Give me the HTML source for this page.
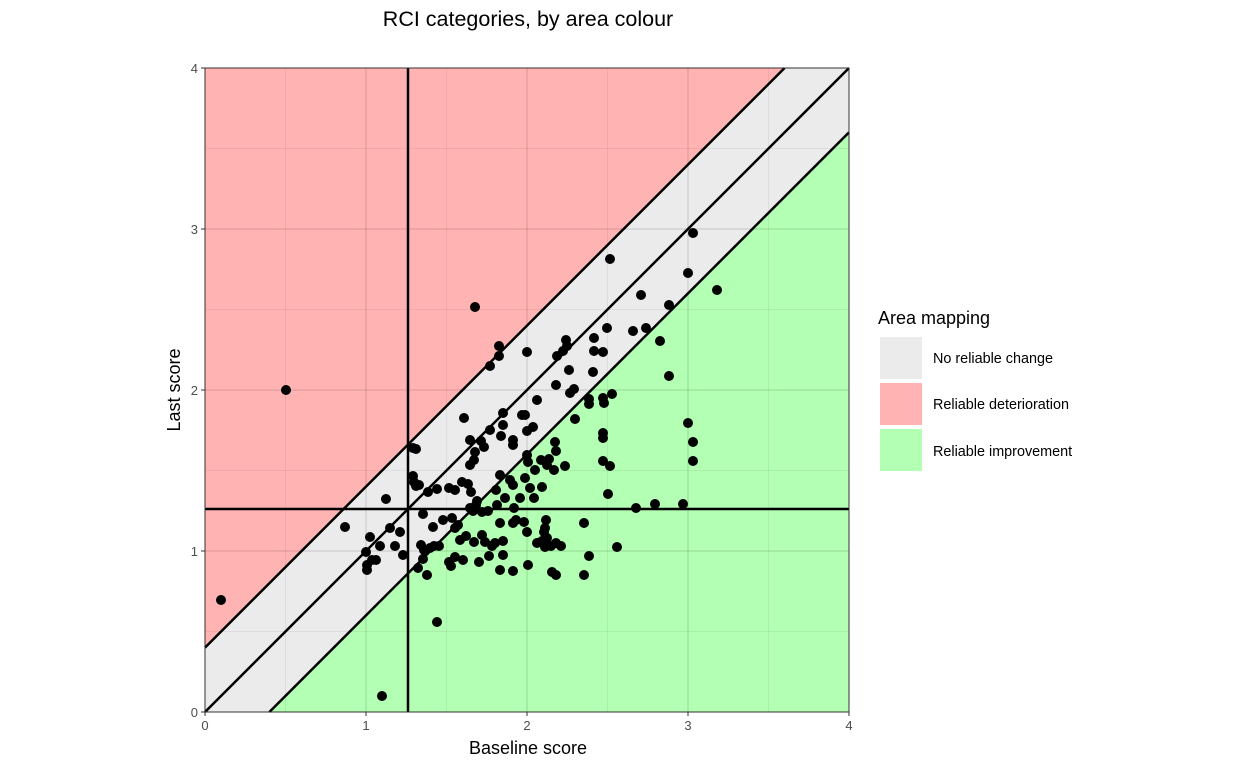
<!DOCTYPE html>
<html><head><meta charset="utf-8"><style>body{margin:0;background:#fff}svg{display:block}text{font-family:"Liberation Sans",sans-serif}</style></head><body>
<svg width="1248" height="768" xmlns="http://www.w3.org/2000/svg">
<rect width="1248" height="768" fill="#fff"/>
<polygon points="205,68 784.6,68 205,647.6" fill="#FFB3B3"/>
<polygon points="205,647.6 784.6,68 849,68 849,132.4 269.4,712 205,712" fill="#EBEBEB"/>
<polygon points="269.4,712 849,132.4 849,712" fill="#B3FFB3"/>
<g stroke="#000" stroke-opacity="0.06" stroke-width="1">
<line x1="285.5" y1="68" x2="285.5" y2="712"/><line x1="446.5" y1="68" x2="446.5" y2="712"/><line x1="607.5" y1="68" x2="607.5" y2="712"/><line x1="768.5" y1="68" x2="768.5" y2="712"/>
<line x1="205" y1="631.5" x2="849" y2="631.5"/><line x1="205" y1="470.5" x2="849" y2="470.5"/><line x1="205" y1="309.5" x2="849" y2="309.5"/><line x1="205" y1="148.5" x2="849" y2="148.5"/>
</g>
<g stroke="#000" stroke-opacity="0.1" stroke-width="1.5">
<line x1="366" y1="68" x2="366" y2="712"/><line x1="527" y1="68" x2="527" y2="712"/><line x1="688" y1="68" x2="688" y2="712"/>
<line x1="205" y1="551" x2="849" y2="551"/><line x1="205" y1="390" x2="849" y2="390"/><line x1="205" y1="229" x2="849" y2="229"/>
</g>
<g stroke="#000" stroke-width="2.5">
<line x1="205" y1="647.6" x2="784.6" y2="68"/><line x1="205" y1="712" x2="849" y2="68"/><line x1="269.4" y1="712" x2="849" y2="132.4"/>
<line x1="408" y1="68" x2="408" y2="712"/><line x1="205" y1="509" x2="849" y2="509"/>
</g>
<g fill="#000">
<circle cx="221" cy="600" r="5"/><circle cx="286" cy="390" r="5"/><circle cx="475" cy="307" r="5"/><circle cx="610" cy="259" r="5"/><circle cx="693" cy="233" r="5"/><circle cx="641" cy="295" r="5"/><circle cx="688" cy="273" r="5"/><circle cx="717" cy="290" r="5"/><circle cx="669" cy="305" r="5"/><circle cx="646" cy="328" r="5"/><circle cx="633" cy="331" r="5"/><circle cx="660" cy="341" r="5"/><circle cx="669" cy="376" r="5"/><circle cx="688" cy="423" r="5"/><circle cx="693" cy="442" r="5"/><circle cx="693" cy="461" r="5"/><circle cx="683" cy="504" r="5"/><circle cx="655" cy="504" r="5"/><circle cx="636" cy="508" r="5"/><circle cx="584" cy="523" r="5"/><circle cx="561" cy="546" r="5"/><circle cx="589" cy="556" r="5"/><circle cx="584" cy="575" r="5"/><circle cx="617" cy="547" r="5"/><circle cx="610" cy="466" r="5"/><circle cx="612" cy="394" r="5"/><circle cx="603" cy="398" r="5"/><circle cx="604" cy="403" r="5"/><circle cx="603" cy="438" r="5"/><circle cx="603" cy="433" r="5"/><circle cx="603" cy="461" r="5"/><circle cx="608" cy="494" r="5"/><circle cx="607" cy="328" r="5"/><circle cx="594" cy="338" r="5"/><circle cx="594" cy="351" r="5"/><circle cx="603" cy="352" r="5"/><circle cx="593" cy="372" r="5"/><circle cx="589" cy="399" r="5"/><circle cx="589" cy="404" r="5"/><circle cx="566" cy="340" r="5"/><circle cx="567" cy="346" r="5"/><circle cx="563" cy="351" r="5"/><circle cx="557" cy="356" r="5"/><circle cx="569" cy="370" r="5"/><circle cx="574" cy="389" r="5"/><circle cx="570" cy="393" r="5"/><circle cx="575" cy="419" r="5"/><circle cx="556" cy="385" r="5"/><circle cx="499" cy="346" r="5"/><circle cx="499" cy="356" r="5"/><circle cx="527" cy="352" r="5"/><circle cx="490" cy="366" r="5"/><circle cx="464" cy="418" r="5"/><circle cx="470" cy="440" r="5"/><circle cx="481" cy="441" r="5"/><circle cx="484" cy="447" r="5"/><circle cx="474" cy="460" r="5"/><circle cx="475" cy="452" r="5"/><circle cx="503" cy="413" r="5"/><circle cx="503" cy="425" r="5"/><circle cx="501" cy="436" r="5"/><circle cx="513" cy="440" r="5"/><circle cx="513" cy="445" r="5"/><circle cx="522" cy="415" r="5"/><circle cx="525" cy="415" r="5"/><circle cx="537" cy="400" r="5"/><circle cx="533" cy="427" r="5"/><circle cx="527" cy="431" r="5"/><circle cx="555" cy="442" r="5"/><circle cx="556" cy="451" r="5"/><circle cx="549" cy="459" r="5"/><circle cx="554" cy="470" r="5"/><circle cx="565" cy="466" r="5"/><circle cx="547" cy="465" r="5"/><circle cx="541" cy="460" r="5"/><circle cx="535" cy="470" r="5"/><circle cx="527" cy="455" r="5"/><circle cx="528" cy="462" r="5"/><circle cx="542" cy="487" r="5"/><circle cx="534" cy="498" r="5"/><circle cx="513" cy="485" r="5"/><circle cx="500" cy="475" r="5"/><circle cx="496" cy="490" r="5"/><circle cx="505" cy="498" r="5"/><circle cx="514" cy="508" r="5"/><circle cx="516" cy="520" r="5"/><circle cx="497" cy="505" r="5"/><circle cx="488" cy="511" r="5"/><circle cx="482" cy="512" r="5"/><circle cx="476" cy="505" r="5"/><circle cx="471" cy="492" r="5"/><circle cx="468" cy="484" r="5"/><circle cx="462" cy="482" r="5"/><circle cx="455" cy="490" r="5"/><circle cx="449" cy="488" r="5"/><circle cx="437" cy="489" r="5"/><circle cx="428" cy="492" r="5"/><circle cx="416" cy="486" r="5"/><circle cx="413" cy="476" r="5"/><circle cx="414" cy="482" r="5"/><circle cx="413" cy="448" r="5"/><circle cx="386" cy="499" r="5"/><circle cx="345" cy="527" r="5"/><circle cx="370" cy="537" r="5"/><circle cx="380" cy="546" r="5"/><circle cx="390" cy="528" r="5"/><circle cx="400" cy="532" r="5"/><circle cx="403" cy="555" r="5"/><circle cx="395" cy="546" r="5"/><circle cx="376" cy="560" r="5"/><circle cx="366" cy="552" r="5"/><circle cx="367" cy="565" r="5"/><circle cx="367" cy="570" r="5"/><circle cx="372" cy="560" r="5"/><circle cx="423" cy="514" r="5"/><circle cx="433" cy="527" r="5"/><circle cx="443" cy="520" r="5"/><circle cx="452" cy="518" r="5"/><circle cx="458" cy="525" r="5"/><circle cx="470" cy="508" r="5"/><circle cx="477" cy="501" r="5"/><circle cx="473" cy="511" r="5"/><circle cx="482" cy="535" r="5"/><circle cx="492" cy="546" r="5"/><circle cx="489" cy="556" r="5"/><circle cx="503" cy="541" r="5"/><circle cx="503" cy="555" r="5"/><circle cx="513" cy="523" r="5"/><circle cx="524" cy="522" r="5"/><circle cx="527" cy="532" r="5"/><circle cx="546" cy="520" r="5"/><circle cx="544" cy="532" r="5"/><circle cx="545" cy="528" r="5"/><circle cx="547" cy="538" r="5"/><circle cx="542" cy="541" r="5"/><circle cx="545" cy="547" r="5"/><circle cx="537" cy="543" r="5"/><circle cx="551" cy="546" r="5"/><circle cx="556" cy="543" r="5"/><circle cx="552" cy="572" r="5"/><circle cx="556" cy="575" r="5"/><circle cx="528" cy="565" r="5"/><circle cx="513" cy="571" r="5"/><circle cx="500" cy="570" r="5"/><circle cx="479" cy="562" r="5"/><circle cx="463" cy="560" r="5"/><circle cx="449" cy="562" r="5"/><circle cx="439" cy="546" r="5"/><circle cx="424" cy="550" r="5"/><circle cx="427" cy="575" r="5"/><circle cx="434" cy="546" r="5"/><circle cx="423" cy="559" r="5"/><circle cx="418" cy="568" r="5"/><circle cx="437" cy="622" r="5"/><circle cx="382" cy="696" r="5"/><circle cx="495" cy="543" r="5"/><circle cx="500" cy="523" r="5"/><circle cx="485" cy="542" r="5"/><circle cx="474" cy="542" r="5"/><circle cx="466" cy="536" r="5"/><circle cx="460" cy="540" r="5"/><circle cx="455" cy="528" r="5"/><circle cx="455" cy="557" r="5"/><circle cx="451" cy="566" r="5"/><circle cx="430" cy="548" r="5"/><circle cx="421" cy="545" r="5"/><circle cx="520" cy="498" r="5"/><circle cx="510" cy="480" r="5"/><circle cx="525" cy="478" r="5"/><circle cx="530" cy="488" r="5"/><circle cx="416" cy="449" r="5"/><circle cx="419" cy="485" r="5"/><circle cx="470" cy="465" r="5"/><circle cx="490" cy="430" r="5"/>
</g>
<rect x="205" y="68" width="644" height="644" fill="none" stroke="#333" stroke-width="1"/>
<g stroke="#333" stroke-width="1">
<line x1="205" y1="712" x2="205" y2="716"/><line x1="366" y1="712" x2="366" y2="716"/><line x1="527" y1="712" x2="527" y2="716"/><line x1="688" y1="712" x2="688" y2="716"/><line x1="849" y1="712" x2="849" y2="716"/>
<line x1="201" y1="712" x2="205" y2="712"/><line x1="201" y1="551" x2="205" y2="551"/><line x1="201" y1="390" x2="205" y2="390"/><line x1="201" y1="229" x2="205" y2="229"/><line x1="201" y1="68" x2="205" y2="68"/>
</g>
<g font-size="13" fill="#4d4d4d" text-anchor="middle">
<text x="205" y="730">0</text><text x="366" y="730">1</text><text x="527" y="730">2</text><text x="688" y="730">3</text><text x="849" y="730">4</text>
</g>
<g font-size="13" fill="#4d4d4d" text-anchor="end">
<text x="198" y="717">0</text><text x="198" y="556">1</text><text x="198" y="395">2</text><text x="198" y="234">3</text><text x="198" y="73">4</text>
</g>
<text x="528" y="754" font-size="18" text-anchor="middle">Baseline score</text>
<text transform="translate(180,390) rotate(-90)" font-size="18" text-anchor="middle">Last score</text>
<text x="528" y="26" font-size="21.5" text-anchor="middle">RCI categories, by area colour</text>
<text x="878" y="324" font-size="18">Area mapping</text>
<rect x="880" y="337" width="42" height="42" fill="#EBEBEB"/>
<rect x="880" y="383" width="42" height="42" fill="#FFB3B3"/>
<rect x="880" y="429" width="42" height="42" fill="#B3FFB3"/>
<g font-size="14.4"><text x="933" y="363">No reliable change</text><text x="933" y="409">Reliable deterioration</text><text x="933" y="456">Reliable improvement</text></g>
</svg>
</body></html>
